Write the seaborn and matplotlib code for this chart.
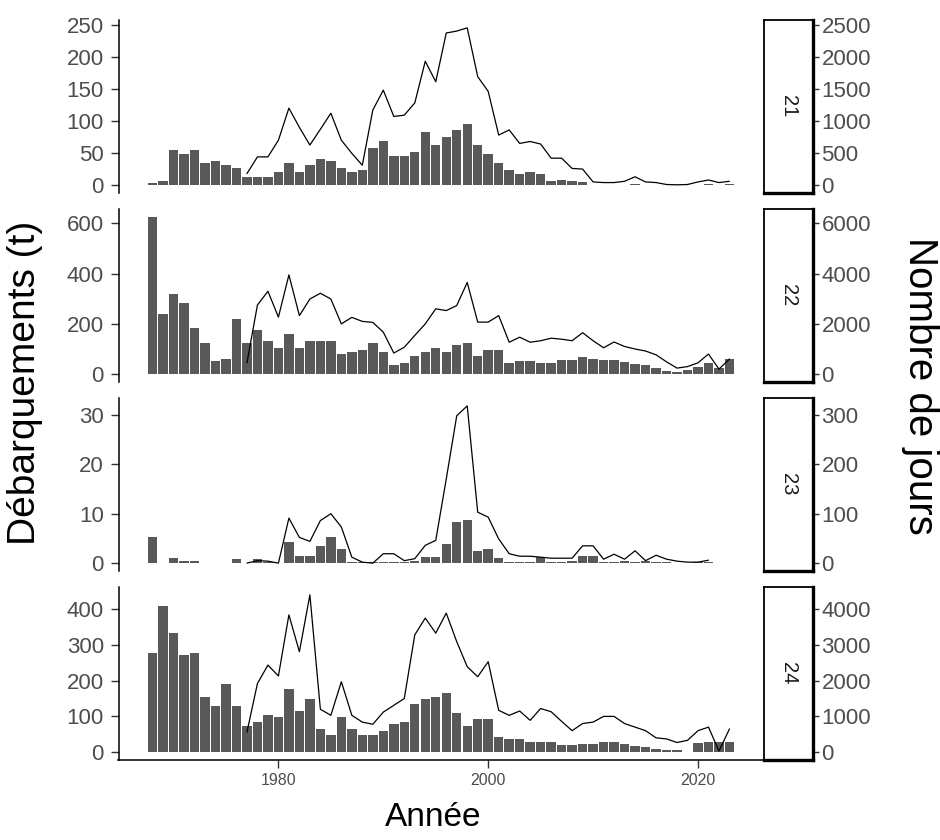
import numpy as np
import pandas as pd
import matplotlib
matplotlib.use("Agg")
import matplotlib.pyplot as plt
import seaborn as sns

# ---------------- data ----------------
years = list(range(1968, 2024))
zones = ["21", "22", "23", "24"]

landings_21 = [3, 7, 55, 48, 55, 34, 37, 31, 27, 13,
               13, 13, 20, 34, 20, 31, 41, 37, 27, 20,
               24, 58, 69, 45, 45, 52, 82, 62, 75, 86,
               96, 62, 48, 34, 24, 17, 20, 17, 7, 8,
               6, 5, 0, 0, 0, 0, 1, 0, 0, 0,
               0, 0, 0, 1, 0, 1]
landings_22 = [626, 238, 317, 282, 185, 123, 53, 62, 221, 123,
               176, 132, 106, 159, 106, 132, 132, 132, 79, 89,
               97, 123, 89, 36, 44, 72, 89, 106, 89, 115,
               123, 72, 97, 97, 44, 53, 53, 44, 44, 55,
               55, 70, 60, 55, 55, 50, 40, 35, 25, 12,
               10, 15, 30, 45, 25, 60]
landings_23 = [5.2, 0, 1.0, 0.4, 0.4, 0, 0, 0, 0.9, 0,
               0.8, 0.2, 0.1, 4.2, 1.5, 1.5, 3.4, 5.2, 2.9, 0.3,
               0.2, 0.3, 0.3, 0.3, 0.3, 0.5, 1.2, 1.2, 3.8, 8.3,
               8.7, 2.4, 2.9, 1.1, 0.3, 0.2, 0.3, 1.2, 0.3, 0.3,
               0.5, 1.5, 1.5, 0.3, 0.3, 0.5, 0.3, 0.5, 0.3, 0.2,
               0.1, 0, 0.2, 0.3, 0, 0]
landings_24 = [278, 409, 334, 272, 278, 155, 129, 190, 129, 72,
               84, 104, 98, 178, 116, 148, 66, 48, 98, 66,
               48, 48, 60, 79, 85, 135, 148, 155, 166, 110,
               73, 92, 92, 42, 36, 36, 29, 29, 29, 20,
               20, 22, 22, 27, 27, 22, 16, 15, 8, 5,
               5, 0, 25, 27, 27, 27]

NA = np.nan
days_21 = [NA] * 9 + [180, 440, 440, 700, 1200, 900, 625, 870, 1120, 700,
                      495, 310, 1170, 1480, 1070, 1090, 1280, 1930, 1610, 2370,
                      2400, 2450, 1690, 1460, 780, 860, 650, 680, 640, 420,
                      420, 260, 250, 50, 40, 40, 60, 130, 50, 40,
                      10, 5, 10, 50, 80, 40, 60]
days_22 = [NA] * 9 + [450, 2750, 3300, 2270, 3950, 2330, 2990, 3220, 2990, 2000,
                      2260, 2100, 2060, 1670, 840, 1070, 1540, 2000, 2600, 2530,
                      2730, 3650, 2070, 2070, 2330, 1270, 1470, 1270, 1330, 1430,
                      1390, 1330, 1650, 1330, 1050, 1280, 1100, 1000, 920, 770,
                      490, 240, 300, 450, 800, 200, 600]
days_23 = [NA] * 9 + [0, 5, 4, 0, 91, 52, 44, 86, 100, 73,
                      12, 2, 0, 19, 19, 5, 9, 36, 46, 170,
                      298, 318, 103, 93, 49, 19, 14, 14, 12, 10,
                      10, 10, 35, 35, 8, 18, 8, 25, 5, 16,
                      8, 4, 2, 2, 6, NA, NA]
days_24 = [NA] * 9 + [560, 1920, 2435, 2130, 3840, 2810, 4400, 1200, 1030, 1970,
                      1030, 840, 780, 1120, 1310, 1500, 3280, 3750, 3330, 3890,
                      3090, 2390, 2110, 2530, 1170, 1030, 1150, 890, 1220, 1130,
                      860, 600, 800, 840, 1000, 1000, 800, 700, 600, 400,
                      370, 270, 330, 600, 700, 30, 650]

left_ticks = {"21": [0, 50, 100, 150, 200, 250],
              "22": [0, 200, 400, 600],
              "23": [0, 10, 20, 30],
              "24": [0, 100, 200, 300, 400]}
x_ticks = [1980, 2000, 2020]

landings = {"21": landings_21, "22": landings_22, "23": landings_23, "24": landings_24}
days = {"21": days_21, "22": days_22, "23": days_23, "24": days_24}
scale = 10  # secondary axis factor

# ---------------- style ----------------
sns.set_theme(style="white")
plt.rcParams["font.family"] = ["Liberation Sans", "DejaVu Sans"]

W, H = 940, 840
fig = plt.figure(figsize=(W / 100, H / 100), dpi=100)
fig.patch.set_facecolor("white")

px_left, px_right = 118.5, 763.5
strip_w = 49
tops = [20, 209, 398, 587]
ph = 173
tick_col = "#4D4D4D"
bar_col = "#595959"

def fx(x):
    return x / W

def fy(y):
    return 1 - y / H

xmin = years[0] - 0.45
xmax = years[-1] + 0.45
xpad = 0.05 * (xmax - xmin)

for k, z in enumerate(zones):
    top = tops[k]
    ax = fig.add_axes([fx(px_left), fy(top + ph), (px_right - px_left) / W, ph / H])
    df = pd.DataFrame({"year": years, "land": landings[z],
                       "days": np.array(days[z], dtype=float) / scale})
    sns.barplot(data=df, x="year", y="land", native_scale=True, width=0.9,
                color=bar_col, saturation=1, errorbar=None, linewidth=0,
                ax=ax)
    dl = df.dropna(subset=["days"])
    sns.lineplot(data=dl, x="year", y="days", color="black", linewidth=0.9,
                 ax=ax, legend=False, errorbar=None)
    hi = max(np.nanmax(df["land"]), np.nanmax(df["days"]))
    ylo, yhi = -0.05 * hi, hi * 1.05
    ax.set_ylim(ylo, yhi)
    ax.set_xlim(xmin - xpad, xmax + xpad)
    ax.set_xlabel("")
    ax.set_ylabel("")
    ax.set_facecolor("white")
    for s in ["top", "right"]:
        ax.spines[s].set_visible(False)
    ax.spines["left"].set_color("black")
    ax.spines["left"].set_linewidth(1.1)
    ax.set_yticks(left_ticks[z])
    ax.set_yticklabels([str(v) for v in left_ticks[z]])
    ax.tick_params(axis="y", left=True, length=5.5, width=1.0, color="#333333",
                   labelsize=16, labelcolor=tick_col, pad=5)
    if k < 3:
        ax.spines["bottom"].set_visible(False)
        ax.set_xticks([])
    else:
        ax.spines["bottom"].set_color("black")
        ax.spines["bottom"].set_linewidth(1.1)
        ax.set_xticks(x_ticks)
        ax.set_xticklabels([str(v) for v in x_ticks])
        ax.tick_params(axis="x", bottom=True, length=5.5, width=1.0, color="#333333",
                       labelsize=11.5, labelcolor=tick_col, pad=4)

    # strip + secondary axis
    sx = fig.add_axes([fx(px_right), fy(top + ph), strip_w / W, ph / H])
    sx.set_facecolor("white")
    sx.set_ylim(ylo * scale, yhi * scale)
    sx.set_xlim(0, 1)
    sx.set_xticks([])
    rt = [v * scale for v in left_ticks[z]]
    sx.yaxis.tick_right()
    sx.set_yticks(rt)
    sx.set_yticklabels([str(v) for v in rt])
    sx.tick_params(axis="y", left=False, right=True, length=4, width=1.0,
                   color="#333333", labelsize=16, labelcolor=tick_col, pad=2.5)
    for s in ["left", "top"]:
        sx.spines[s].set_visible(True)
        sx.spines[s].set_color("black")
        sx.spines[s].set_linewidth(1.3)
    for s in ["right", "bottom"]:
        sx.spines[s].set_visible(True)
        sx.spines[s].set_color("black")
        sx.spines[s].set_linewidth(2.4)
    sx.text(0.5, 0.5, z, rotation=270, ha="center", va="center",
            fontsize=14.5, color="#1A1A1A", transform=sx.transAxes)

fig.text(fx(25), fy(383), "Débarquements (t)", rotation=90, ha="center",
         va="center", fontsize=28, color="black")
fig.text(fx(920), fy(386), "Nombre de jours", rotation=270, ha="center",
         va="center", fontsize=29, color="black")
fig.text(fx(433), fy(817), "Année", ha="center", va="center", fontsize=24,
         color="black")

fig.savefig("out.png", dpi=100, facecolor="white")
